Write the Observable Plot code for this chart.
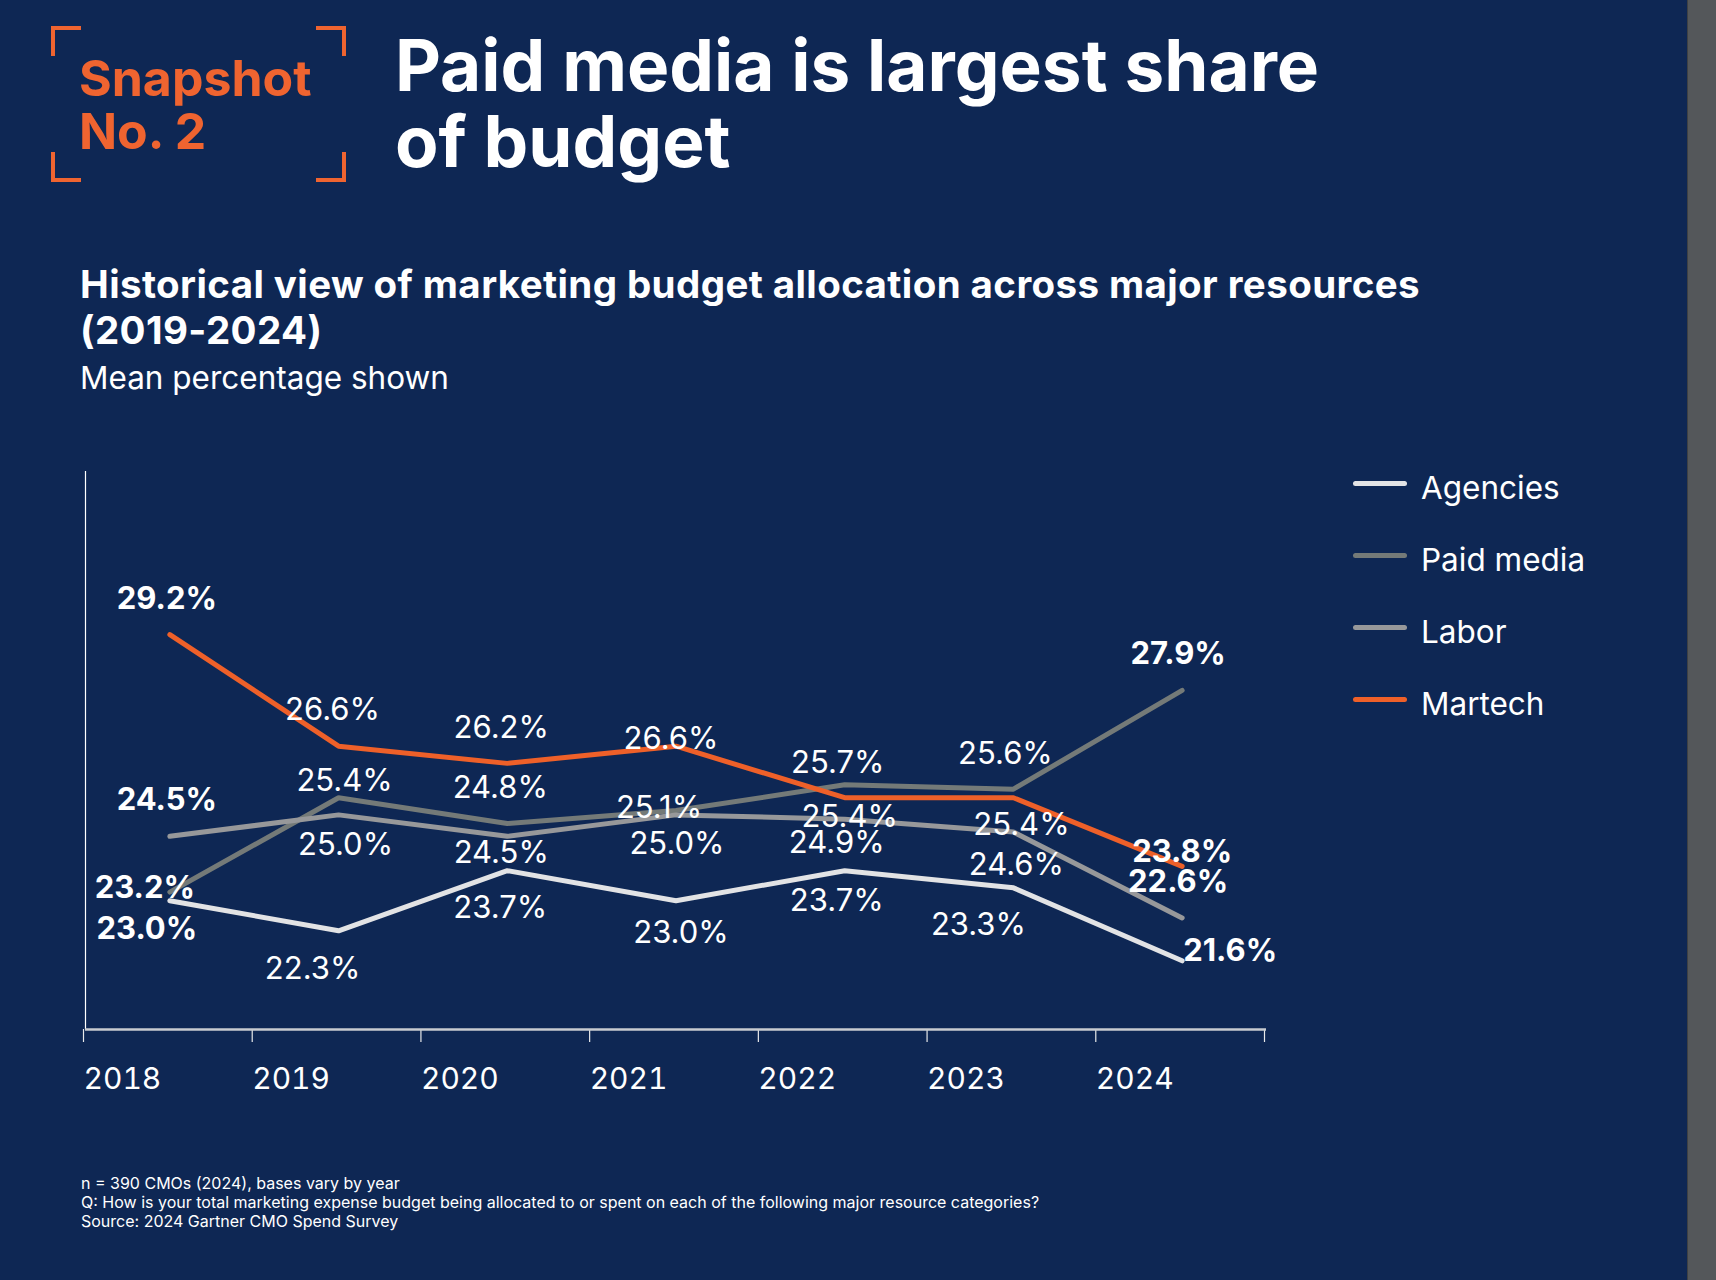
<!DOCTYPE html>
<html>
<head>
<meta charset="utf-8">
<script src="https://cdn.jsdelivr.net/npm/d3@7"></script>
<script src="https://cdn.jsdelivr.net/npm/@observablehq/plot@0.6"></script>
<style>
  html, body { margin: 0; padding: 0; background: #0e2754; }
  #page { position: relative; width: 1716px; height: 1280px; overflow: hidden; background: #0e2754; font-family: Inter, "Noto Sans", sans-serif; color: #fff; }
  .abs { position: absolute; white-space: nowrap; }
  .corner { position: absolute; width: 26px; height: 26px; border: 0 solid #ef6430; }
  #strip { position: absolute; left: 1687px; top: 0; width: 29px; height: 1280px; background: #54575a; border-left: 1px solid #3e4144; }
  .leg { position: absolute; left: 1353px; height: 32px; display: flex; align-items: center; }
  .leg .sw { width: 54px; height: 5px; border-radius: 3px; position: relative; top: -5px; }
  .leg .tx { margin-left: 14px; font-size: 31.5px; line-height: 32px; color: #fff; }
</style>
</head>
<body>
<div id="page">
  <div class="corner" style="left:51px;top:26px;border-top-width:4px;border-left-width:4px;"></div>
  <div class="corner" style="left:316px;top:26px;border-top-width:4px;border-right-width:4px;"></div>
  <div class="corner" style="left:51px;top:152px;border-bottom-width:4px;border-left-width:4px;"></div>
  <div class="corner" style="left:316px;top:152px;border-bottom-width:4px;border-right-width:4px;"></div>
  <div class="abs" style="left:79px;top:52px;font-size:50px;line-height:53px;font-weight:700;color:#ef6430;">Snapshot<br>No. 2</div>
  <div class="abs" style="left:395px;top:28px;font-size:71px;line-height:75.6px;font-weight:700;letter-spacing:0px;">Paid media is largest share<br>of budget</div>
  <div class="abs" style="left:80px;top:261px;font-size:38.5px;line-height:46px;font-weight:700;letter-spacing:0.4px;">Historical view of marketing budget allocation across major resources<br>(2019-2024)</div>
  <div class="abs" style="left:80px;top:362px;font-size:31.5px;line-height:31px;">Mean percentage shown</div>
  <div id="chart" class="abs" style="left:0;top:440px;"></div>
  <div id="legend"></div>
  <div class="abs" style="left:81px;top:1174px;font-size:16px;line-height:19px;">n = 390 CMOs (2024), bases vary by year<br>Q: How is your total marketing expense budget being allocated to or spent on each of the following major resource categories?<br>Source: 2024 Gartner CMO Spend Survey</div>
  <div id="strip"></div>
</div>
<script>
// ---- data ----
const years = [2018, 2019, 2020, 2021, 2022, 2023, 2024];
const seriesNames = ["Agencies", "Paid media", "Labor", "Martech"];
const agencies  = [23.0, 22.3, 23.7, 23.0, 23.7, 23.3, 21.6];
const paidMedia = [23.2, 25.4, 24.8, 25.1, 25.7, 25.6, 27.9];
const labor     = [24.5, 25.0, 24.5, 25.0, 24.9, 24.6, 22.6];
const martech   = [29.2, 26.6, 26.2, 26.6, 25.4, 25.4, 23.8];
const axisTicks = [2018, 2019, 2020, 2021, 2022, 2023, 2024, 2025];

// ---- styling ----
const seriesColors = ["#e2e3e5", "#747a78", "#97989a", "#ee6029"];
// label nudges [dx, dy] in px, per series per year
const labelNudges = {
  "Agencies":   [[-23, 28], [-26, 38], [-7, 37], [5, 32], [-8, 30], [-35, 37], [48, -10]],
  "Paid media": [[-25, -4], [6, -17], [-7, -35], [-17, -3], [-7, -22], [-8, -35], [-4, -36]],
  "Labor":      [[-3, -36], [7, 30], [-6, 17], [1, 29], [-8, 24], [3, 33], [-4, -36]],
  "Martech":    [[-3, -36], [-6, -36], [-6, -35], [-5, -7], [5, 19], [8, 27], [0, -14]]
};

const valuesBySeries = {"Agencies": agencies, "Paid media": paidMedia, "Labor": labor, "Martech": martech};
const rows = [];
for (const s of seriesNames) {
  valuesBySeries[s].forEach((v, i) => rows.push({series: s, year: years[i], value: v, idx: i}));
}

const xPos = d => d.year + 0.5;

const labelMarks = rows.map(d => {
  const [dx, dy] = labelNudges[d.series][d.idx];
  const isEnd = d.idx === 0 || d.idx === years.length - 1;
  return Plot.text([d], {
    x: xPos, y: "value", text: r => r.value.toFixed(1) + "%",
    dx, dy, fill: "#ffffff", fontSize: 31, fontWeight: isEnd ? 700 : 400
  });
});

const chart = Plot.plot({
  width: 1300,
  height: 700,
  marginLeft: 85,
  marginRight: 34,
  marginTop: 31,
  marginBottom: 111,
  style: {background: "transparent", color: "#ffffff", fontFamily: "Inter, sans-serif", overflow: "visible"},
  x: {domain: [2018, 2025], axis: null},
  y: {domain: [20, 33], axis: null},
  color: {domain: seriesNames, range: seriesColors},
  marks: [
    Plot.ruleX([2018], {stroke: "#ffffff", strokeWidth: 1.2}),
    Plot.axisX({ticks: axisTicks, tickSize: 13, tickPadding: 25, stroke: "#e8e9eb", strokeWidth: 1.2,
      tickFormat: d => d === 2025 ? "" : String(d), textAnchor: "start", dx: -2,
      fontSize: 30, fill: "#ffffff", label: null}),
    Plot.ruleY([20], {stroke: "#c9ccd1", strokeWidth: 2.5}),
    Plot.line(rows, {x: xPos, y: "value", z: "series", stroke: "series", strokeWidth: 5, strokeLinecap: "round", strokeLinejoin: "miter"}),
    ...labelMarks
  ]
});
document.getElementById("chart").appendChild(chart);

// legend
const legendTop = 472;
const legendStep = 72;
const legend = document.getElementById("legend");
seriesNames.forEach((s, i) => {
  const row = document.createElement("div");
  row.className = "leg";
  row.style.top = (legendTop + i * legendStep) + "px";
  const sw = document.createElement("div");
  sw.className = "sw";
  sw.style.background = seriesColors[i];
  const tx = document.createElement("div");
  tx.className = "tx";
  tx.textContent = s;
  row.appendChild(sw); row.appendChild(tx);
  legend.appendChild(row);
});
</script>
</body>
</html>
